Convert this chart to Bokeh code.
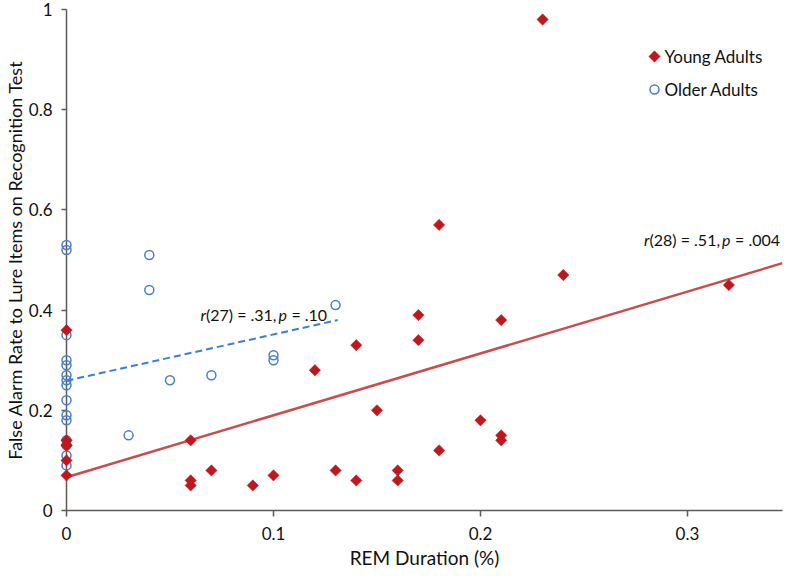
import numpy as np
from bokeh.plotting import figure
from bokeh.models import Range1d, FixedTicker
from bokeh.core.properties import value
from bokeh.embed import file_html
from bokeh.resources import INLINE

FONT = "Lato"

# ---- data ----
young_x = [0, 0, 0, 0, 0, 0, 0.06, 0.06, 0.06, 0.07, 0.09, 0.10, 0.12, 0.13, 0.14,
           0.14, 0.15, 0.16, 0.16, 0.17, 0.17, 0.18, 0.18, 0.20, 0.21, 0.21, 0.21,
           0.23, 0.24, 0.32]
young_y = [0.36, 0.14, 0.13, 0.13, 0.10, 0.07, 0.14, 0.06, 0.05, 0.08, 0.05, 0.07,
           0.28, 0.08, 0.33, 0.06, 0.20, 0.08, 0.06, 0.39, 0.34, 0.57, 0.12, 0.18,
           0.38, 0.15, 0.14, 0.98, 0.47, 0.45]

older_x = [0, 0, 0, 0, 0, 0, 0, 0, 0, 0, 0, 0, 0, 0, 0,
           0.03, 0.04, 0.04, 0.05, 0.07, 0.10, 0.10, 0.13]
older_y = [0.53, 0.52, 0.35, 0.30, 0.29, 0.27, 0.26, 0.25, 0.22, 0.19, 0.18, 0.14,
           0.13, 0.11, 0.09,
           0.15, 0.51, 0.44, 0.26, 0.27, 0.31, 0.30, 0.41]

# regression lines (intercept, slope, x start, x end)
young_fit = (0.0665, 1.235, 0.0, 0.3459)
older_fit = (0.259, 0.924, 0.0, 0.131)

x_ticks = [0, 0.1, 0.2, 0.3]
x_tick_labels = ["0", "0.1", "0.2", "0.3"]
y_ticks = [0, 0.2, 0.4, 0.6, 0.8, 1.0]
y_tick_labels = ["0", "0.2", "0.4", "0.6", "0.8", "1"]

series_names = ["Young Adults", "Older Adults"]
x_title = "REM Duration (%)"
y_title = "False Alarm Rate to Lure Items on Recognition Test"

stat_older = [("r", "italic"), ("(27) = .31,", "normal"), ("p", "italic"), ("= .10", "normal")]
stat_young = [("r", "italic"), ("(28) = .51,", "normal"), ("p", "italic"), ("= .004", "normal")]

RED = "#C0171C"
RED_LINE = "#CC4B4B"
BLUE = "#4A7EC8"
BLUE_LINE = "#3A7ED6"
AXIS = "#5E5A58"
INK = "#111111"

X0, X1 = 0.0, 0.3459
FW, FH = 716, 501

p = figure(frame_width=FW, frame_height=FH,
           x_range=Range1d(X0, X1), y_range=Range1d(0, 1),
           output_backend="svg", toolbar_location=None,
           min_border_left=62, min_border_right=1, min_border_top=9, min_border_bottom=59,
           background_fill_color="white", border_fill_color="white")
p.grid.visible = False
p.outline_line_color = None

for ax in (p.xaxis[0], p.yaxis[0]):
    ax.axis_line_color = AXIS
    ax.axis_line_width = 1.5
    ax.major_tick_line_color = AXIS
    ax.major_tick_line_width = 1.5
    ax.major_tick_in = 0
    ax.minor_tick_line_color = None
    ax.major_label_text_font = FONT
    ax.major_label_text_font_size = "17px"
    ax.major_label_text_color = INK
    ax.axis_label_text_font = FONT
    ax.axis_label_text_font_style = "normal"
    ax.axis_label_text_color = INK

p.xaxis.ticker = FixedTicker(ticks=x_ticks)
p.xaxis.major_label_overrides = dict(zip(x_ticks, x_tick_labels))
p.xaxis.major_tick_out = 6
p.xaxis.major_label_standoff = 10
p.xaxis.axis_label = x_title
p.xaxis.axis_label_standoff = 3
p.xaxis.axis_label_text_font_size = "19px"

p.yaxis.ticker = FixedTicker(ticks=y_ticks)
p.yaxis.major_label_overrides = dict(zip(y_ticks, y_tick_labels))
p.yaxis.major_tick_out = 5
p.yaxis.major_label_standoff = 9
p.yaxis.axis_label = y_title
p.yaxis.axis_label_standoff = 0
p.yaxis.axis_label_text_font_size = "18px"

# regression lines
b, m, x0, x1 = young_fit
p.line([x0, x1], [b + m * x0, b + m * x1], line_color=RED_LINE, line_width=2.5)
b, m, x0, x1 = older_fit
p.line([x0, x1], [b + m * x0, b + m * x1], line_color=BLUE_LINE, line_width=2,
       line_dash="7 4")

p.scatter(older_x, older_y, marker="circle", size=9, fill_alpha=0,
          line_color=BLUE, line_width=1.5, level="overlay")
p.scatter(young_x, young_y, marker="square", angle=np.pi / 4, size=8,
          fill_color=RED, line_color=RED, line_width=0.5, level="overlay")


# ---- legend drawn by hand (frame-pixel layout converted to data units) ----
def px_to_data(px, py):
    return X0 + px / FW * (X1 - X0), 1 - py / FH


lx, ly1 = px_to_data(588, 47)
_, ly2 = px_to_data(588, 80)
tx, _ = px_to_data(598, 0)
p.scatter([lx], [ly1], marker="square", angle=np.pi / 4, size=8,
          fill_color=RED, line_color=RED, line_width=0.5, level="overlay")
p.scatter([lx], [ly2], marker="circle", size=9, fill_alpha=0,
          line_color=BLUE, line_width=1.5, level="overlay")
p.text(x=[tx, tx], y=[ly1, ly2], text=series_names, text_font=value(FONT),
       text_font_size="17px", text_baseline="middle", text_align="left",
       text_color=INK)


def rich_text(x, y, parts, offsets):
    for (txt, style), off in zip(parts, offsets):
        p.text(x=[x], y=[y], text=[txt], x_offset=off, text_font=value(FONT),
               text_font_size="16px", text_font_style=style, text_baseline="middle",
               text_align="left", text_color=INK)


rich_text(0.0647, 0.392, stat_older, [0, 5.5, 78, 91])
rich_text(0.279, 0.540, stat_young, [0, 5.5, 78, 91])

open("out.html", "w").write(file_html(p, INLINE))
